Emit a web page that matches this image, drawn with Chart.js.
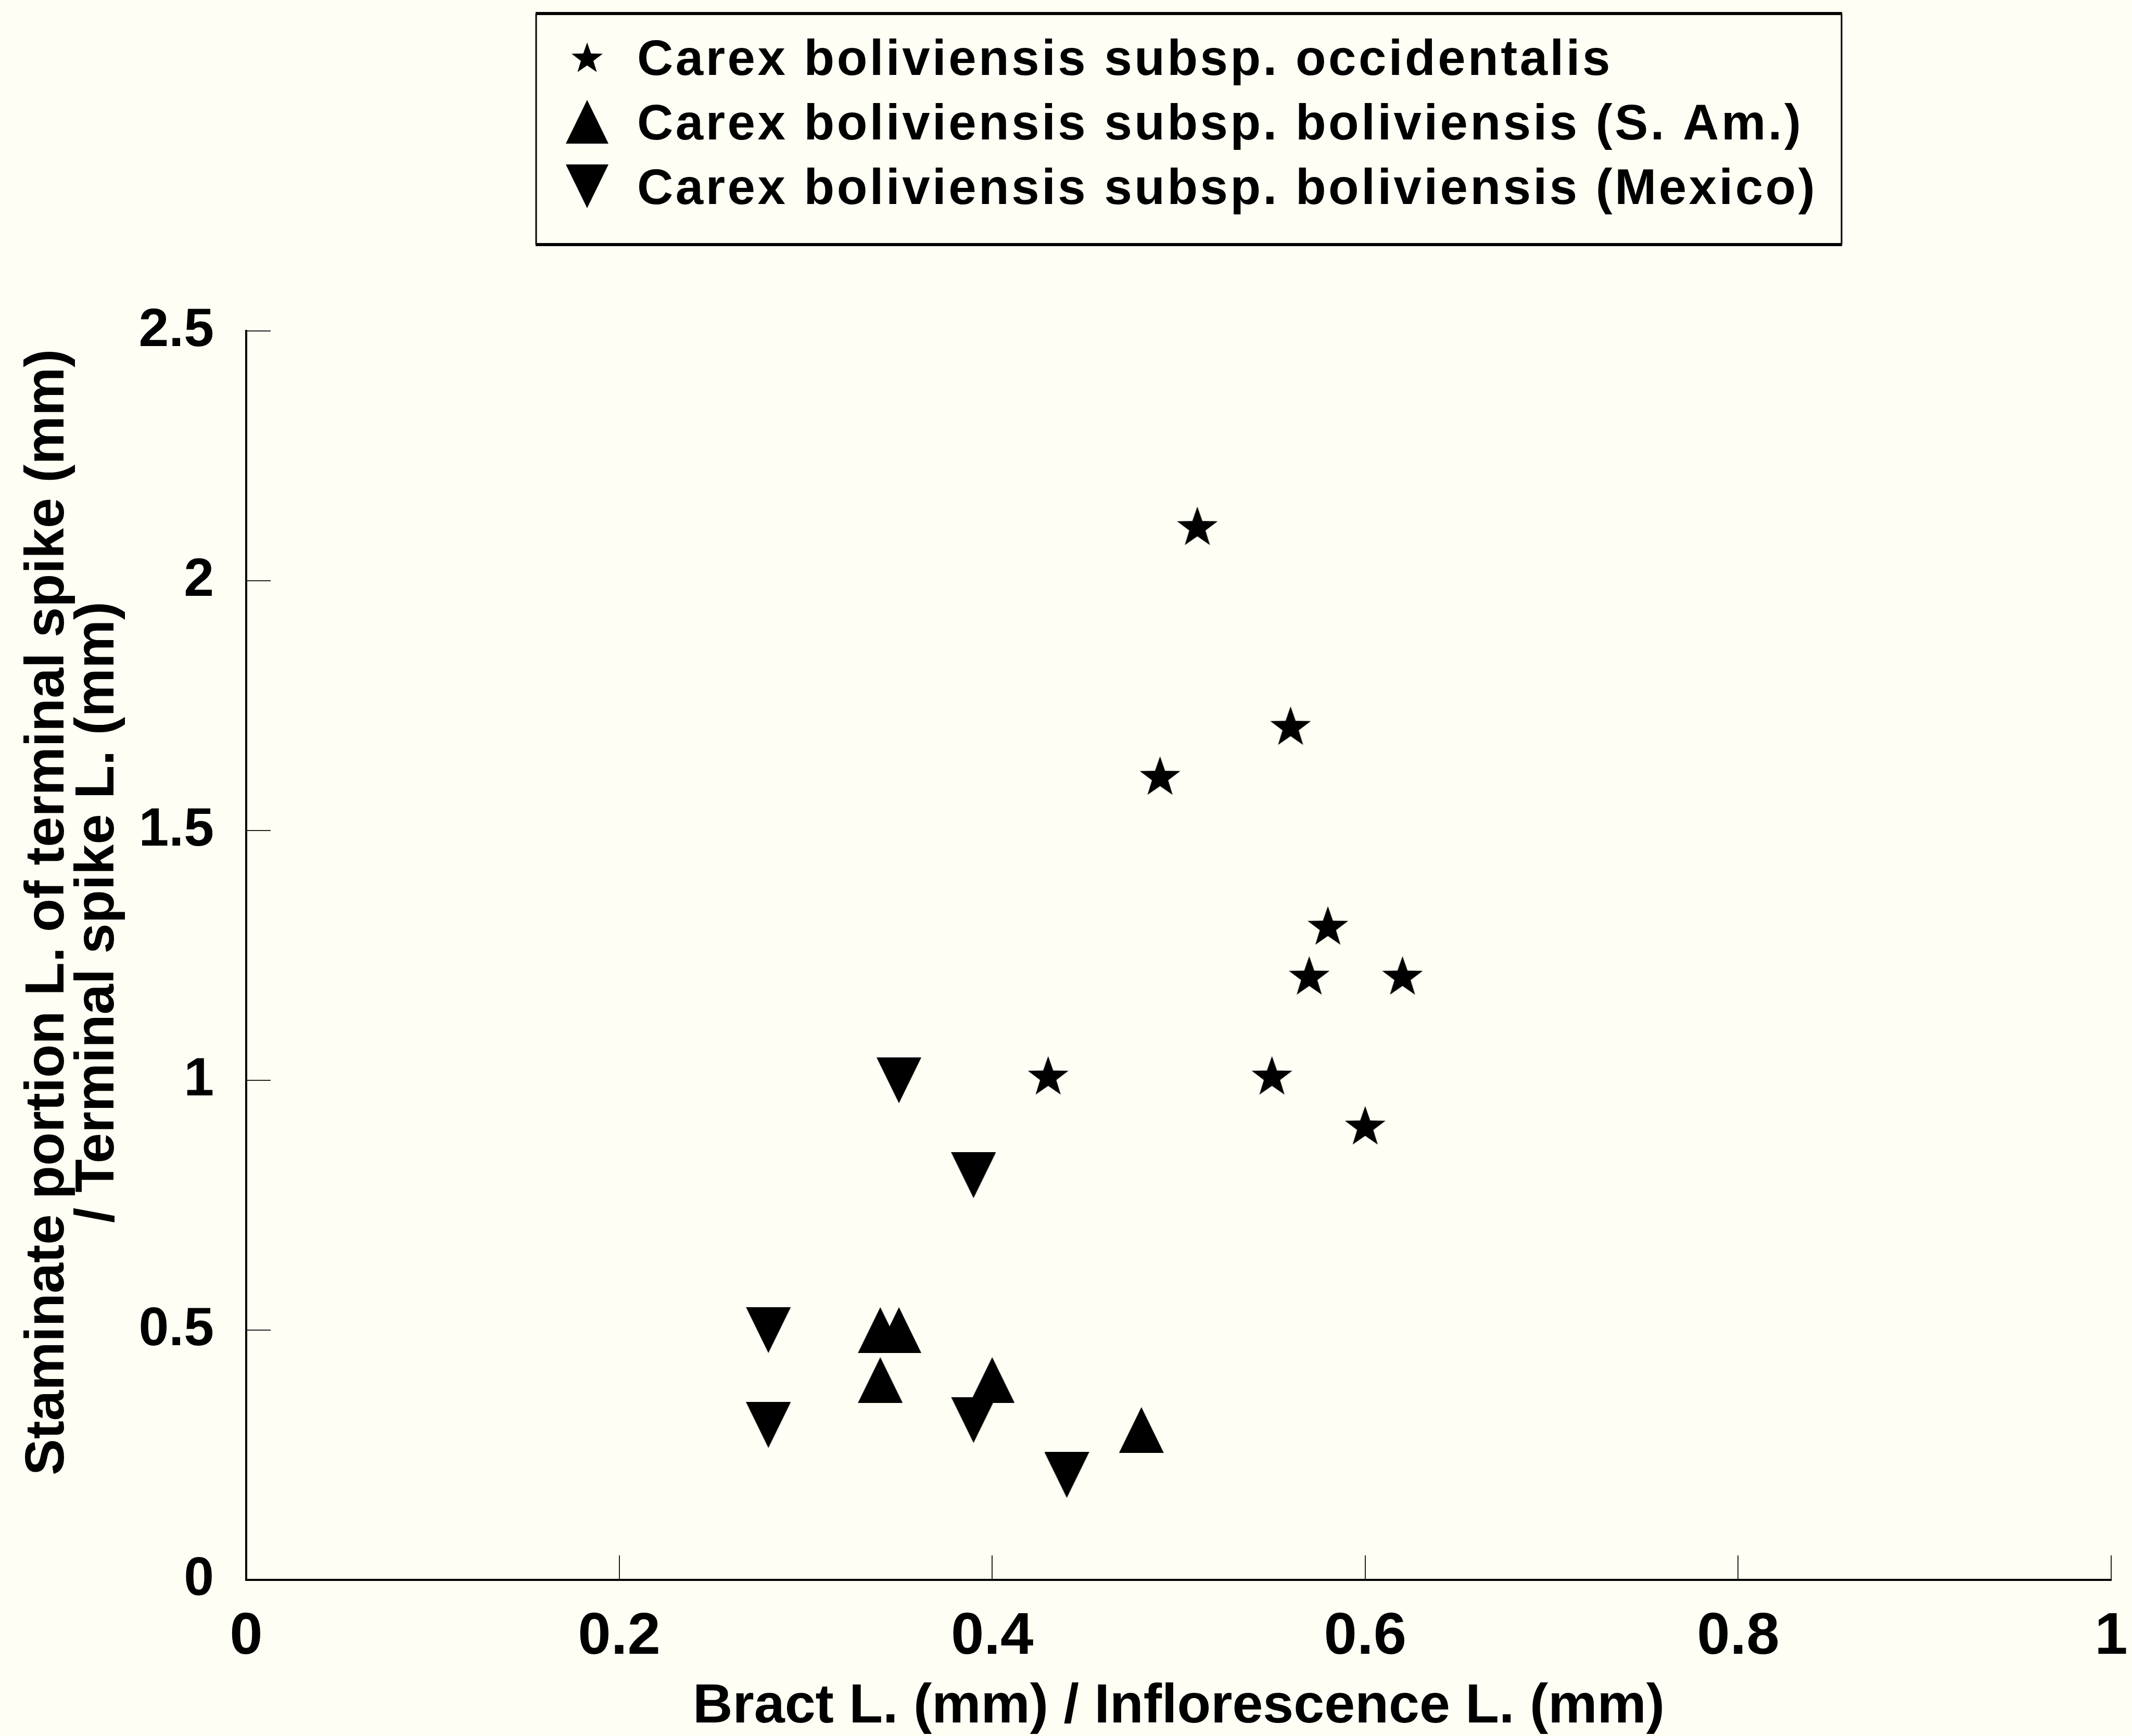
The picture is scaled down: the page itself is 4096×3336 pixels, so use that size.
<!DOCTYPE html>
<html>
<head>
<meta charset="utf-8">
<script src="https://cdn.jsdelivr.net/npm/chart.js@4.4.1/dist/chart.umd.min.js"></script>
<style>
  html, body { margin: 0; padding: 0; background: #fffef4; overflow: hidden; }
  canvas { display: block; }
</style>
</head>
<body>
<canvas id="chart" width="4096" height="3336"></canvas>
<script>
const seriesNames = [
  "Carex boliviensis subsp. occidentalis",
  "Carex boliviensis subsp. boliviensis (S. Am.)",
  "Carex boliviensis subsp. boliviensis (Mexico)",
];

const occidentalisX = [0.51, 0.56, 0.49, 0.58, 0.57, 0.62, 0.43, 0.55, 0.60];
const occidentalisY = [2.11, 1.71, 1.61, 1.31, 1.21, 1.21, 1.01, 1.01, 0.91];

const southAmericaX = [0.34, 0.35, 0.34, 0.40, 0.48];
const southAmericaY = [0.50, 0.50, 0.40, 0.40, 0.30];

const mexicoX = [0.28, 0.28, 0.35, 0.39, 0.39, 0.44];
const mexicoY = [0.50, 0.31, 1.00, 0.81, 0.32, 0.21];

const xTickLabels = ["0", "0.2", "0.4", "0.6", "0.8", "1"];
const yTickLabels = ["0", "0.5", "1", "1.5", "2", "2.5"];

const xTitle = "Bract L. (mm) / Inflorescence L. (mm)";
const yTitleLines = ["Staminate portion L. of terminal spike (mm)", "/ Terminal spike L. (mm)"];

const family = "'Liberation Sans', Arial, Helvetica, sans-serif";

// marker shapes, drawn into small canvases used as point styles
function makeMarker(w, h, drawPath) {
  const c = document.createElement("canvas");
  c.width = w;
  c.height = h;
  const g = c.getContext("2d");
  g.fillStyle = "#000";
  g.beginPath();
  drawPath(g, w, h);
  g.closePath();
  g.fill();
  return c;
}

const starPath = (g, w, h) => {
  const R = w / (2 * Math.sin(2 * Math.PI / 5));
  const r = R * 0.4;
  const cx = w / 2;
  const cy = R + (h - R * (1 + Math.cos(Math.PI / 5))) / 2;
  for (let i = 0; i < 10; i++) {
    const rad = i * Math.PI / 5;
    const rr = i % 2 ? r : R;
    const px = cx + Math.sin(rad) * rr;
    const py = cy - Math.cos(rad) * rr;
    if (i === 0) g.moveTo(px, py); else g.lineTo(px, py);
  }
};
const upPath = (g, w, h) => { g.moveTo(w / 2, 0); g.lineTo(w, h); g.lineTo(0, h); };
const downPath = (g, w, h) => { g.moveTo(0, 0); g.lineTo(w, 0); g.lineTo(w / 2, h); };

const plotMarkers = [makeMarker(78, 75, starPath), makeMarker(86, 88, upPath), makeMarker(86, 88, downPath)];
const legendMarkers = [makeMarker(60, 58, starPath), makeMarker(82, 84, upPath), makeMarker(82, 84, downPath)];

const toPoints = (xs, ys) => xs.map((x, i) => ({ x: x, y: ys[i] }));

const boxedLegend = {
  id: "boxedLegend",
  afterDraw(chart) {
    const ctx = chart.ctx;
    const box = { left: 1030, top: 26, right: 3538, bottom: 470 };
    const baselines = [144, 268, 392];
    ctx.save();
    ctx.fillStyle = "#000";
    ctx.fillRect(box.left - 1, box.top - 3, box.right - box.left + 2, 6);
    ctx.fillRect(box.left - 1, box.bottom - 3, box.right - box.left + 2, 6);
    ctx.fillRect(box.left - 1.5, box.top, 3, box.bottom - box.top);
    ctx.fillRect(box.right - 1.5, box.top, 3, box.bottom - box.top);

    ctx.font = "bold 96px " + family;
    ctx.letterSpacing = "4.5px";
    ctx.textBaseline = "alphabetic";
    ctx.textAlign = "left";
    chart.data.datasets.forEach((ds, i) => {
      const m = legendMarkers[i];
      const cy = baselines[i] - 34;
      ctx.drawImage(m, 1128 - m.width / 2, cy - m.height / 2);
      ctx.fillText(ds.label, 1224, baselines[i]);
    });
    ctx.restore();
  },
};

const sideTitle = {
  id: "sideTitle",
  afterDraw(chart) {
    const ctx = chart.ctx;
    const xs = [93, 189];
    ctx.save();
    ctx.fillStyle = "#000";
    ctx.font = "bold 105px " + family;
    ctx.textAlign = "center";
    ctx.textBaseline = "middle";
    yTitleLines.forEach((line, i) => {
      ctx.save();
      ctx.translate(xs[i], 1753);
      ctx.rotate(-Math.PI / 2);
      ctx.fillText(line, 0, 0);
      ctx.restore();
    });
    ctx.restore();
  },
};

const axisBorder = { display: true, color: "#000", width: 4 };
const inwardTicks = { drawOnChartArea: false, drawTicks: true, tickLength: -47, color: "#222", lineWidth: 2 };

new Chart(document.getElementById("chart"), {
  type: "scatter",
  data: {
    datasets: [
      { label: seriesNames[0], data: toPoints(occidentalisX, occidentalisY), pointStyle: plotMarkers[0] },
      { label: seriesNames[1], data: toPoints(southAmericaX, southAmericaY), pointStyle: plotMarkers[1] },
      { label: seriesNames[2], data: toPoints(mexicoX, mexicoY), pointStyle: plotMarkers[2] },
    ].map((d) => Object.assign(d, { pointRadius: 40, backgroundColor: "#000", borderWidth: 0 })),
  },
  options: {
    responsive: false,
    animation: false,
    events: [],
    layout: { padding: { top: 636, right: 39, bottom: 0, left: 0 } },
    plugins: {
      legend: { display: false },
      tooltip: { enabled: false },
    },
    scales: {
      x: {
        type: "linear",
        min: 0,
        max: 1,
        afterFit: (s) => {
          s.height = 300;
          s.paddingLeft = 0;
          s.paddingRight = 0;
        },
        border: axisBorder,
        grid: inwardTicks,
        ticks: {
          stepSize: 0.2,
          padding: 101,
          maxRotation: 0,
          autoSkip: false,
          color: "#000",
          font: { family: family, size: 114, weight: "bold", lineHeight: 1 },
          callback: (v, i) => xTickLabels[i],
        },
        title: {
          display: true,
          text: xTitle,
          color: "#000",
          font: { family: family, size: 106, weight: "bold", lineHeight: 1 },
          padding: { top: 0, bottom: 2 },
        },
      },
      y: {
        type: "linear",
        min: 0,
        max: 2.5,
        afterFit: (s) => { s.width = 473; },
        border: axisBorder,
        grid: inwardTicks,
        ticks: {
          stepSize: 0.5,
          padding: 109,
          autoSkip: false,
          color: "#000",
          font: { family: family, size: 104, weight: "bold", lineHeight: 1 },
          callback: (v, i) => yTickLabels[i],
        },
      },
    },
  },
  plugins: [boxedLegend, sideTitle],
});
</script>
</body>
</html>
